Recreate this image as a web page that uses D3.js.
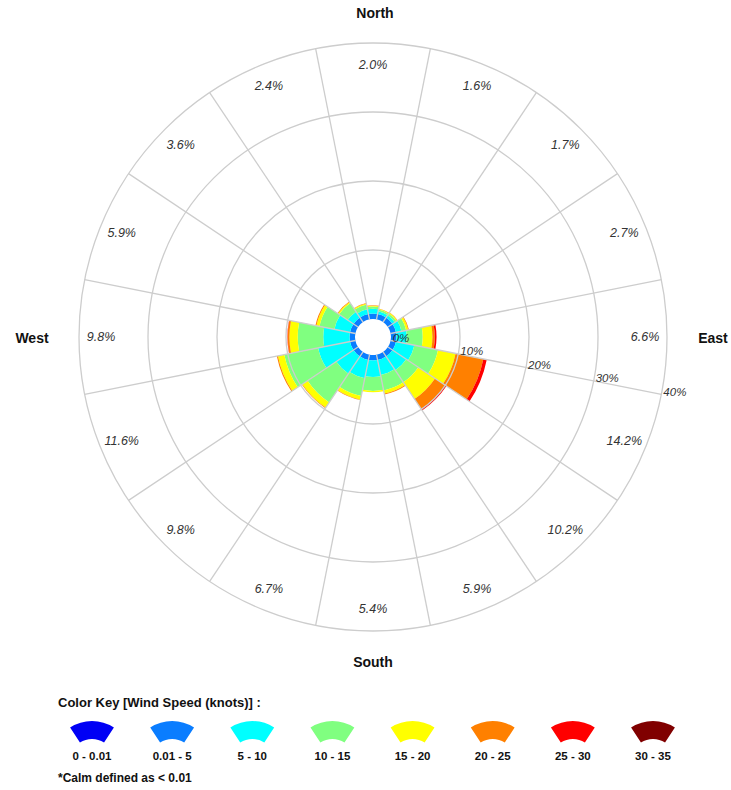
<!DOCTYPE html>
<html><head><meta charset="utf-8">
<script src="https://cdn.jsdelivr.net/npm/d3@7"></script>
<style>
body{margin:0;background:#fff;}
svg{display:block;font-family:"Liberation Sans",Arial,Helvetica,sans-serif;}
</style>
</head><body>
<svg id="chart" width="731" height="790"></svg>
<script>
// ---- data ----
const directions = ["N","NNE","NE","ENE","E","ESE","SE","SSE","S","SSW","SW","WSW","W","WNW","NW","NNW"];
const speedBins = ["0 - 0.01","0.01 - 5","5 - 10","10 - 15","15 - 20","20 - 25","25 - 30","30 - 35"];
const binColors = ["#0000f5","#0a7dff","#00ffff","#80ff80","#ffff00","#ff8000","#ff0000","#800000"];
// percentage of time per direction, per speed bin
const bin_0_001  = [0,0,0,0,0,0,0,0,0,0,0,0,0,0,0,0];
const bin_001_5  = [0.8,0.8,0.8,0.8,0.8,0.8,0.8,0.8,0.8,0.8,0.8,0.8,0.8,0.8,0.8,0.8];
const bin_5_10   = [0.7,0.4,0.4,0.8,1.5,2.7,2.4,2.2,2.4,2.7,3.0,4.7,3.8,2.3,1.0,0.7];
const bin_10_15  = [0.3,0.25,0.3,0.7,2.3,3.5,2.1,2.3,2.0,2.6,5.0,5.0,3.7,2.2,1.5,0.7];
const bin_15_20  = [0.13,0.1,0.15,0.3,1.4,2.6,2.9,0.45,0.2,0.55,0.9,0.95,1.2,0.45,0.2,0.15];
const bin_20_25  = [0.07,0.05,0.05,0.1,0.35,4.1,1.75,0.15,0,0.05,0.1,0.15,0.25,0.15,0.1,0.05];
const bin_25_30  = [0,0,0,0,0.25,0.5,0.25,0,0,0,0,0,0.05,0,0,0];
const bin_30_35  = [0,0,0,0,0,0,0,0,0,0,0,0,0,0,0,0];
const totalLabels = ["2.0%","1.6%","1.7%","2.7%","6.6%","14.2%","10.2%","5.9%","5.4%","6.7%","9.8%","11.6%","9.8%","5.9%","3.6%","2.4%"];
const radialTicks = [0,10,20,30,40];
const radialTickLabels = ["0%","10%","20%","30%","40%"];
const compassLabels = ["North","East","South","West"];
const legendTitle = "Color Key [Wind Speed (knots)] :";
const calmNote = "*Calm defined as < 0.01";

// ---- layout ----
const svg = d3.select("#chart");
const cx = 373, cy = 337;
const r = d3.scaleLinear().domain([0,40]).range([18,294]);
const step = 2*Math.PI/directions.length;
const color = d3.scaleOrdinal().domain(speedBins).range(binColors);
const bins = [bin_0_001,bin_001_5,bin_5_10,bin_10_15,bin_15_20,bin_20_25,bin_25_30,bin_30_35];

const rows = directions.map((d,i)=>{const o={dir:d};speedBins.forEach((b,j)=>o[b]=bins[j][i]);return o;});
const stacked = d3.stack().keys(speedBins)(rows);

const g = svg.append("g").attr("transform",`translate(${cx},${cy})`);
const arc = d3.arc();

// bars
stacked.forEach(layer=>{
  g.append("g").selectAll("path").data(layer).join("path")
   .attr("d",(d,i)=>arc({innerRadius:r(d[0]),outerRadius:r(d[1]),startAngle:i*step-step/2,endAngle:i*step+step/2}))
   .attr("fill",color(layer.key))
   .attr("display",d=>d[1]-d[0]>0?null:"none");
});

// grid on top
const gridColor="#cdcdcd";
g.append("g").selectAll("circle").data(radialTicks.filter(t=>t>0)).join("circle")
  .attr("r",d=>r(d)).attr("fill","none").attr("stroke",gridColor).attr("stroke-width",1.3);
g.append("g").selectAll("line").data(directions).join("line")
  .each(function(d,i){
    const a=i*step+step/2;
    d3.select(this).attr("x1",r(0)*Math.sin(a)).attr("y1",-r(0)*Math.cos(a))
      .attr("x2",r(40)*Math.sin(a)).attr("y2",-r(40)*Math.cos(a));
  })
  .attr("stroke",gridColor).attr("stroke-width",1.3);

// radial axis labels along E/ESE boundary
const axA = 4.5*step;
g.append("g").selectAll("text").data(radialTicks).join("text")
  .attr("x",d=>r(d)*Math.sin(axA)+2).attr("y",d=>-r(d)*Math.cos(axA)+1.5)
  .attr("font-size",11.5).attr("font-style","italic").attr("fill","#333")
  .text((d,i)=>radialTickLabels[i]);

// sector total labels
g.append("g").selectAll("text").data(totalLabels).join("text")
  .attr("x",(d,i)=>272*Math.sin(i*step)).attr("y",(d,i)=>-272*Math.cos(i*step))
  .attr("dy","0.35em").attr("text-anchor","middle")
  .attr("font-size",12.5).attr("font-style","italic").attr("fill","#333")
  .text(d=>d);

// compass labels
const compassPos = [[2,-319],[340,6],[0,330],[-341,6]];
g.append("g").selectAll("text").data(compassLabels).join("text")
  .attr("x",(d,i)=>compassPos[i][0]).attr("y",(d,i)=>compassPos[i][1])
  .attr("text-anchor","middle").attr("font-size",14).attr("font-weight","bold").attr("fill","#111")
  .text(d=>d);

// legend
svg.append("text").attr("x",58).attr("y",707).attr("font-size",13).attr("font-weight","bold").attr("fill","#111").text(legendTitle);
const lx = d3.scalePoint().domain(speedBins).range([92,653]);
const sw = svg.append("g");
sw.selectAll("path").data(speedBins).join("path")
  .attr("transform",d=>`translate(${lx(d)},761)`)
  .attr("d",arc({innerRadius:22,outerRadius:40,startAngle:-0.58,endAngle:0.58}))
  .attr("fill",d=>color(d));
sw.selectAll("text").data(speedBins).join("text")
  .attr("x",d=>lx(d)).attr("y",760).attr("text-anchor","middle")
  .attr("font-size",11.5).attr("font-weight","bold").attr("fill","#111").text(d=>d);
svg.append("text").attr("x",58).attr("y",782).attr("font-size",12).attr("font-weight","bold").attr("fill","#111").text(calmNote);
</script>
</body></html>
